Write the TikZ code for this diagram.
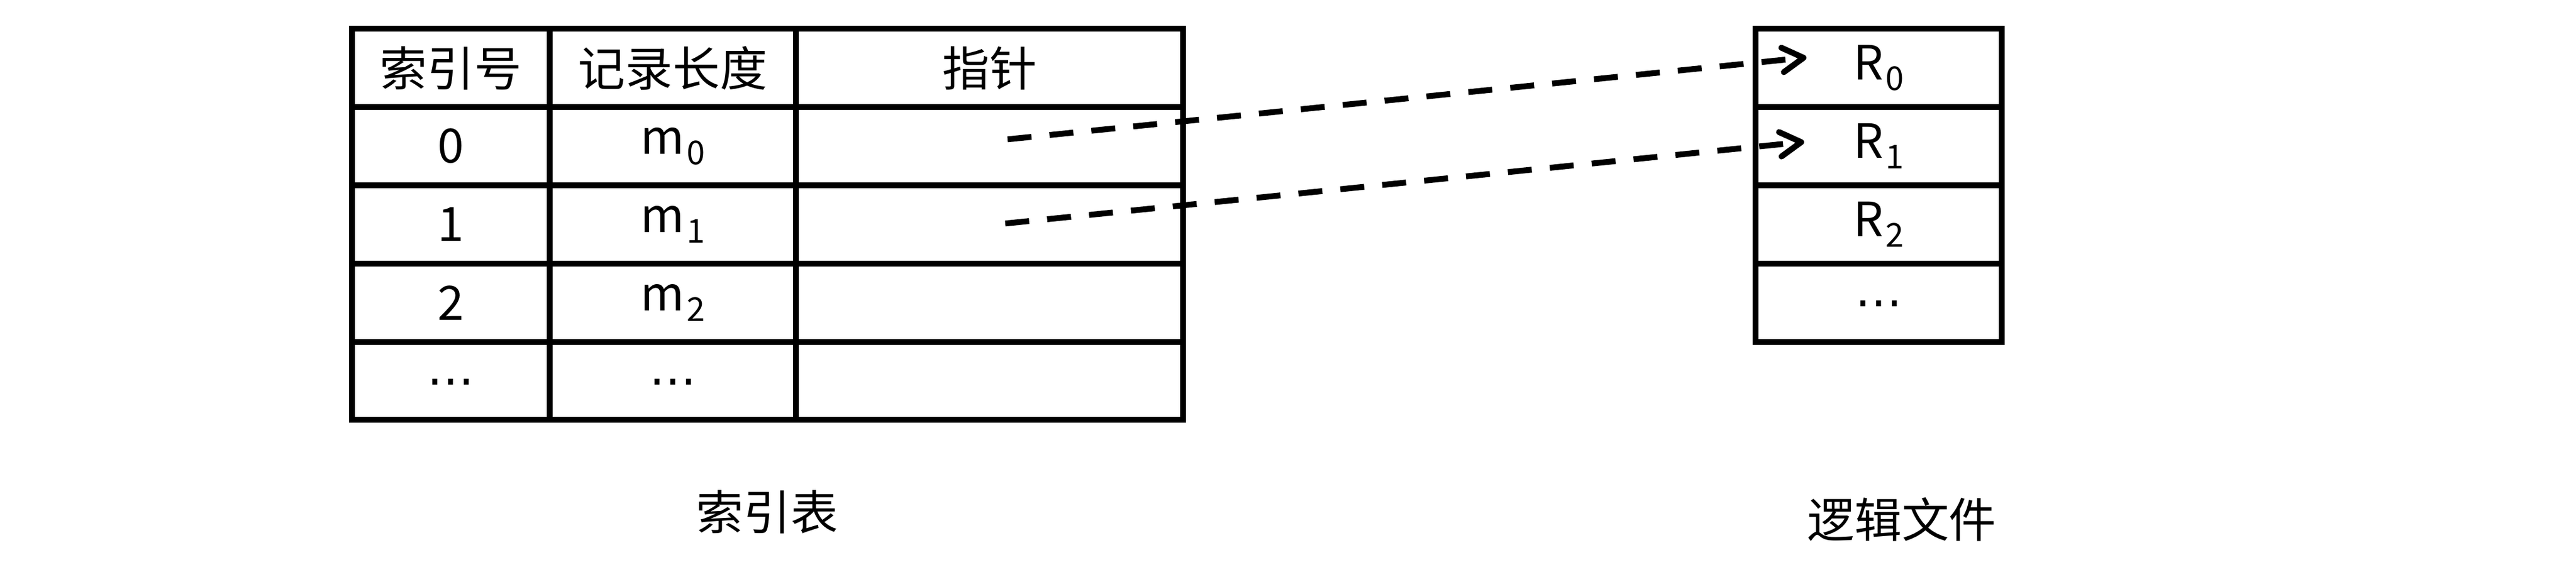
\documentclass[tikz,border=0pt]{standalone}
\usepackage{fontspec}
\setmainfont{Noto Sans CJK SC}
\newfontfamily\dotsfont{DejaVu Sans}
\newcommand\lowidx[1]{\kern1pt\raisebox{-5pt}{\fontsize{16}{16}\selectfont #1}}
\newcommand\moredots{\raisebox{-0.27cm}[0pt][0pt]{\dotsfont ⋯}}
\usetikzlibrary{arrows.meta, positioning}

\begin{document}
\begin{tikzpicture}[
        on grid, node distance=1.338cm, >={Straight Barb[length=3.6mm,width=4.2mm,round]},
        font=\fontsize{23}{28}\selectfont,
        cell/.style={draw, line width=2.85pt, inner sep=0pt, outer sep=0pt, minimum height=1.338cm},
        idxcol/.style={cell, minimum width=3.38cm},
        lencol/.style={cell, minimum width=4.21cm},
        ptrcol/.style={cell, minimum width=6.62cm},
        rec/.style={cell, minimum width=4.21cm},
        link/.style={->, line width=2.85pt, dash pattern=on 4.1mm off 3.1mm}
        ]
        \useasboundingbox (0,0) rectangle (44.05,-9.86);

        % index table
        \node[idxcol] (h_idx)                      at (7.71,-1.163) {索引号};
        \node[lencol] (h_len) [right=3.795cm of h_idx]             {记录长度};
        \node[ptrcol] (h_ptr) [right=5.415cm of h_len]             {指针};

        \node[idxcol] (i_0) [below=of h_idx] {0};
        \node[lencol] (l_0) [below=of h_len] {m\lowidx{0}};
        \node[ptrcol] (p_0) [below=of h_ptr] {};

        \node[idxcol] (i_1) [below=of i_0] {1};
        \node[lencol] (l_1) [below=of l_0] {m\lowidx{1}};
        \node[ptrcol] (p_1) [below=of p_0] {};

        \node[idxcol] (i_2) [below=of i_1] {2};
        \node[lencol] (l_2) [below=of l_1] {m\lowidx{2}};
        \node[ptrcol] (p_2) [below=of p_1] {};

        \node[idxcol] (i_3) [below=of i_2] {\moredots};
        \node[lencol] (l_3) [below=of l_2] {\moredots};
        \node[ptrcol] (p_3) [below=of p_2] {};

        % logical file
        \node[rec] (r_0)                  at (32.125,-1.163) {R\lowidx{0}};
        \node[rec] (r_1) [below=of r_0]                      {R\lowidx{1}};
        \node[rec] (r_2) [below=of r_1]                      {R\lowidx{2}};
        \node[rec] (r_3) [below=of r_2]                      {\moredots};

        \node (t_idx) at (13.12,-8.76) {索引表};
        \node (t_rec) at (32.52,-8.88) {逻辑文件};

        % pointers
        \coordinate[above right=0.118cm and 0.31cm of p_0.center] (s_0);
        \coordinate[above right=0.016cm and 0.27cm of p_1.center] (s_1);
        \coordinate[above right=0.18cm and 0.87cm of r_0.west]    (e_0);
        \coordinate[above right=0.075cm and 0.83cm of r_1.west]   (e_1);

        \draw[link] (s_0) -- (e_0);
        \draw[link] (s_1) -- (e_1);
      \end{tikzpicture}
\end{document}
